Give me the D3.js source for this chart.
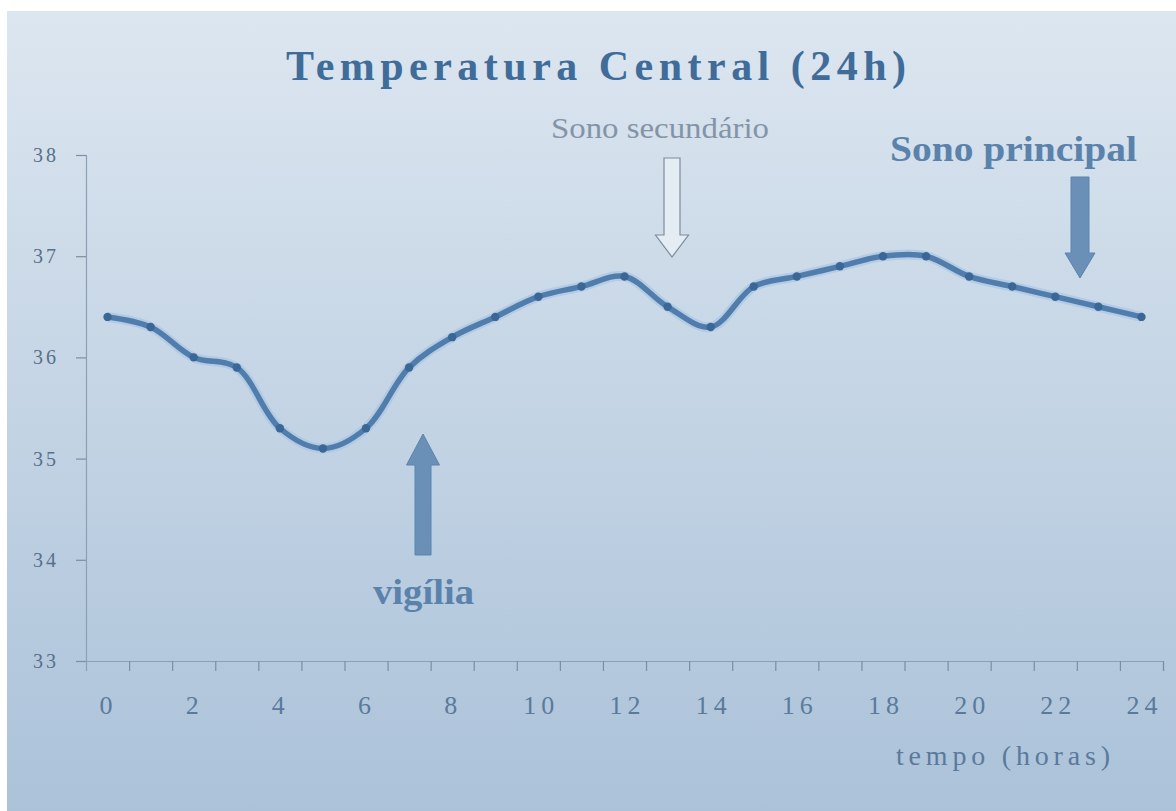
<!DOCTYPE html>
<html>
<head>
<meta charset="utf-8">
<script src="https://cdn.jsdelivr.net/npm/d3@7"></script>
<style>
  body { margin: 0; background: #ffffff; }
  svg { display: block; }
</style>
</head>
<body>
<div id="chart"></div>
<script>
// data
var hours = [0, 1, 2, 3, 4, 5, 6, 7, 8, 9, 10, 11, 12, 13, 14, 15, 16, 17, 18, 19, 20, 21, 22, 23, 24];
var temps = [36.4, 36.3, 36.0, 35.9, 35.3, 35.1, 35.3, 35.9, 36.2, 36.4, 36.6, 36.7, 36.8,
             36.5, 36.3, 36.7, 36.8, 36.9, 37.0, 37.0, 36.8, 36.7, 36.6, 36.5, 36.4];
var yTicks = [33, 34, 35, 36, 37, 38];
var xLabels = [0, 2, 4, 6, 8, 10, 12, 14, 16, 18, 20, 22, 24];
var titleText = "Temperatura Central (24h)";
var xTitle = "tempo (horas)";

var svgWidth = 1176;
var svgHeight = 811;

var svg = d3.select("#chart")
  .append("svg")
  .attr("width", svgWidth)
  .attr("height", svgHeight);

// background gradient
var defs = svg.append("defs");
var grad = defs.append("linearGradient")
  .attr("id", "bg")
  .attr("x1", 0).attr("y1", 0).attr("x2", 0).attr("y2", 1);
grad.append("stop").attr("offset", "0%").attr("stop-color", "#dce6f0");
grad.append("stop").attr("offset", "100%").attr("stop-color", "#abc2d9");

svg.append("rect")
  .attr("x", 7).attr("y", 11)
  .attr("width", svgWidth - 7).attr("height", svgHeight - 11)
  .attr("fill", "url(#bg)");

// scales (category axis: ticks sit between the hours)
var x = d3.scaleLinear().domain([-0.5, 24.5]).range([86, 1163]);
var y = d3.scaleLinear().domain([33, 38]).range([661, 155]);

var axisColor = "#8c9fb3";
var labelColor = "#587089";
var serif = "'Liberation Serif', 'Times New Roman', serif";

// y axis
var yAxis = svg.append("g")
  .attr("transform", "translate(86,0)")
  .call(d3.axisLeft(y).tickValues(yTicks).tickSize(10).tickPadding(17).tickFormat(d3.format("d")));
yAxis.select(".domain").attr("stroke", axisColor).attr("stroke-width", 1.2);
yAxis.selectAll(".tick line").attr("stroke", "#7b8ea2").attr("stroke-width", 1.2);
yAxis.selectAll(".tick text")
  .attr("fill", labelColor)
  .attr("font-family", serif)
  .attr("font-size", 20)
  .attr("letter-spacing", 3);

// x axis with tick marks between categories
var tickPos = d3.range(0, 25).map(function(d) { return d + 0.5; });
var xAxis = svg.append("g")
  .attr("transform", "translate(0,661)")
  .call(d3.axisBottom(x).tickValues(tickPos).tickSize(10).tickFormat(""));
xAxis.select(".domain").attr("stroke", axisColor).attr("stroke-width", 1.2);
xAxis.selectAll(".tick line").attr("stroke", "#7b8ea2").attr("stroke-width", 1.2);

svg.append("g")
  .selectAll("text")
  .data(xLabels)
  .enter()
  .append("text")
  .attr("x", function(d) { return x(d) + (d >= 10 ? 3 : 1); })
  .attr("y", 714)
  .attr("text-anchor", "middle")
  .attr("fill", "#5a7a9c")
  .attr("font-family", serif)
  .attr("font-size", 26)
  .attr("letter-spacing", 5)
  .text(function(d) { return d; });

svg.append("text")
  .attr("x", 896)
  .attr("y", 765)
  .attr("textLength", 214)
  .attr("lengthAdjust", "spacing")
  .attr("fill", "#5a7a9c")
  .attr("font-family", serif)
  .attr("font-size", 28)
  .text(xTitle);

// title
svg.append("text")
  .attr("x", 286)
  .attr("y", 80)
  .attr("textLength", 620)
  .attr("lengthAdjust", "spacing")
  .attr("fill", "#3f6c99")
  .attr("font-family", serif)
  .attr("font-weight", "bold")
  .attr("font-size", 42)
  .text(titleText);

// the line
var pts = hours.map(function(h, i) { return { h: h, t: temps[i] }; });
var line = d3.line()
  .x(function(d) { return x(d.h); })
  .y(function(d) { return y(d.t); })
  .curve(d3.curveCatmullRom.alpha(0.5));

svg.append("path")
  .datum(pts)
  .attr("d", line)
  .attr("fill", "none")
  .attr("stroke", "#a9c6e4")
  .attr("stroke-width", 10)
  .attr("stroke-linejoin", "round")
  .attr("opacity", 0.7);

svg.append("path")
  .datum(pts)
  .attr("d", line)
  .attr("fill", "none")
  .attr("stroke", "#507dab")
  .attr("stroke-width", 5.5)
  .attr("stroke-linejoin", "round");

svg.selectAll(".dot")
  .data(pts)
  .enter()
  .append("circle")
  .attr("class", "dot")
  .attr("cx", function(d) { return x(d.h); })
  .attr("cy", function(d) { return y(d.t); })
  .attr("r", 4.2)
  .attr("fill", "#3b6796");

// annotations
var annColor = "#5a82ab";

function downArrow(cx, top, headTop, tip, shaftW, headW) {
  return "M" + (cx - shaftW / 2) + "," + top +
    "L" + (cx + shaftW / 2) + "," + top +
    "L" + (cx + shaftW / 2) + "," + headTop +
    "L" + (cx + headW / 2) + "," + headTop +
    "L" + cx + "," + tip +
    "L" + (cx - headW / 2) + "," + headTop +
    "L" + (cx - shaftW / 2) + "," + headTop + "Z";
}

// "Sono secundário" with hollow arrow
svg.append("text")
  .attr("x", 551)
  .attr("y", 138)
  .attr("textLength", 218)
  .attr("lengthAdjust", "spacingAndGlyphs")
  .attr("fill", "#8494a6")
  .attr("font-family", serif)
  .attr("font-size", 30)
  .text("Sono secundário");

svg.append("path")
  .attr("d", downArrow(672, 158, 235, 257, 16, 33))
  .attr("fill", "#e4ecf4")
  .attr("stroke", "#7d8c9c")
  .attr("stroke-width", 1.2);

// "Sono principal" with filled arrow
svg.append("text")
  .attr("x", 890)
  .attr("y", 161)
  .attr("textLength", 247)
  .attr("lengthAdjust", "spacingAndGlyphs")
  .attr("fill", annColor)
  .attr("font-family", serif)
  .attr("font-weight", "bold")
  .attr("font-size", 36)
  .text("Sono principal");

svg.append("path")
  .attr("d", downArrow(1080, 177, 253, 278, 18, 30))
  .attr("fill", "#6a90b8")
  .attr("stroke", "#5d84ad")
  .attr("stroke-width", 1);

// "vigília" with up arrow
svg.append("path")
  .attr("d", downArrow(423, 555, 465, 434, 16, 33))
  .attr("fill", "#6a90b8")
  .attr("stroke", "#5d84ad")
  .attr("stroke-width", 1);

svg.append("text")
  .attr("x", 373)
  .attr("y", 604)
  .attr("textLength", 101)
  .attr("lengthAdjust", "spacingAndGlyphs")
  .attr("fill", annColor)
  .attr("font-family", serif)
  .attr("font-weight", "bold")
  .attr("font-size", 36)
  .text("vigília");
</script>
</body>
</html>
